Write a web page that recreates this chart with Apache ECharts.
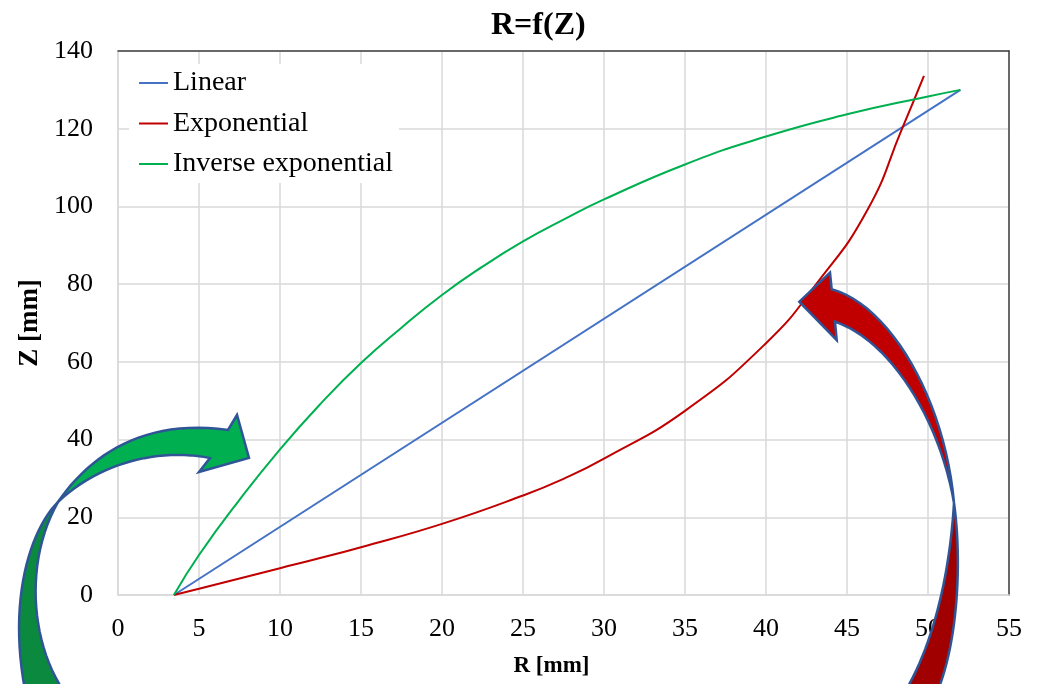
<!DOCTYPE html>
<html>
<head>
<meta charset="utf-8">
<script src="https://cdn.jsdelivr.net/npm/echarts@6/dist/echarts.min.js"></script>
<style>html,body{margin:0;padding:0;background:#fff}#c{width:1038px;height:684px}</style>
</head>
<body>
<div id="c"></div>
<script>
// ---- data ----
const linearR = [3.45, 52];
const linearZ = [0, 130];
const expR = [3.45, 5, 10, 12, 15, 20, 25, 27.5, 30, 35, 40, 43.1, 46.25, 48.4, 49.75];
const expZ = [0, 1.6, 6.9, 9.0, 12.3, 18.3, 25.6, 29.9, 35.1, 47.4, 64.8, 80, 99, 120, 133.6];
const invR = [3.45, 5, 7.5, 10, 12.5, 15, 17.5, 20, 22.5, 25, 27.5, 30, 35, 40, 45, 50, 52];
const invZ = [0, 10.3, 24.5, 37.5, 49.2, 59.7, 68.8, 77.2, 84.5, 91.0, 96.6, 101.8, 110.8, 118, 123.7, 128.3, 130];
const seriesNames = ['Linear', 'Exponential', 'Inverse exponential'];
const xTicks = {min: 0, max: 55, interval: 5};
const yTicks = {min: 0, max: 140, interval: 20};

const pair = (xs, ys) => xs.map((x, i) => [x, ys[i]]);
const FONT = '"Liberation Serif", "Times New Roman", serif';

// decorative arrow outlines: build polygon points from simple path commands
function shapePoints(cmds) {
  const pts = [];
  let cur = null;
  cmds.forEach(c => {
    if (c[0] === 'M' || c[0] === 'L') { cur = [c[1], c[2]]; pts.push(cur); }
    else if (c[0] === 'C') {
      const p0 = cur, p1 = [c[1], c[2]], p2 = [c[3], c[4]], p3 = [c[5], c[6]];
      for (let i = 1; i <= 24; i++) {
        const t = i / 24, u = 1 - t;
        pts.push([
          u*u*u*p0[0] + 3*u*u*t*p1[0] + 3*u*t*t*p2[0] + t*t*t*p3[0],
          u*u*u*p0[1] + 3*u*u*t*p1[1] + 3*u*t*t*p2[1] + t*t*t*p3[1]
        ]);
      }
      cur = p3;
    }
  });
  return pts;
}
const outline = '#2F5597';
const arrowParts = [
  {fill: '#0B8A3F', z: 100, cmds: [['M',58,502],['C',30,530,8,600,25,690],['L',63,690],['C',30,640,25,560,58,502]]},
  {fill: '#00B050', z: 101, cmds: [['M',58,502],['C',90,455,145,418,228,430],['L',237,415],['L',249,458],['L',199,472],['L',210,458],['C',160,448,100,462,58,502]]},
  {fill: '#A00000', z: 100, cmds: [['M',954,503],['C',962,560,958,640,938,690],['L',906,690],['C',935,640,950,570,954,503]]},
  {fill: '#C00000', z: 101, cmds: [['M',954,503],['C',945,400,890,305,831.7,289.3],['L',830,272.7],['L',799.3,301.7],['L',836.7,340],['L',835,321.7],['C',890,340,940,420,954,503]]}
];

const chart = echarts.init(document.getElementById('c'), null, {renderer: 'canvas'});
chart.setOption({
  backgroundColor: '#ffffff',
  animation: false,
  title: {
    text: 'R=f(Z)', left: 486, top: 5,
    textStyle: {fontFamily: FONT, fontWeight: 'bold', fontSize: 32, color: '#000'}
  },
  legend: {
    data: seriesNames, orient: 'vertical', left: 129, top: 64,
    padding: [5, 6, 5, 10], backgroundColor: '#ffffff',
    itemWidth: 29, itemHeight: 2, itemGap: 12.5, icon: 'rect',
    textStyle: {fontFamily: FONT, fontSize: 28, color: '#000', lineHeight: 28}
  },
  grid: {left: 118, right: 29, top: 51, bottom: 89},
  xAxis: [{
    type: 'value', min: xTicks.min, max: xTicks.max, interval: xTicks.interval,
    name: 'R [mm]', nameLocation: 'middle', nameGap: 60,
    nameTextStyle: {fontFamily: FONT, fontWeight: 'bold', fontSize: 23, color: '#000', padding: [0, 24, 0, 0]},
    axisLine: {show: true, onZero: false, lineStyle: {color: '#d9d9d9', width: 1.5}},
    axisTick: {show: false},
    axisLabel: {fontFamily: FONT, fontSize: 26, color: '#000', margin: 21},
    splitLine: {show: true, lineStyle: {color: '#d9d9d9', width: 1.5}}
  }, {
    type: 'value', position: 'top', min: xTicks.min, max: xTicks.max,
    axisLine: {show: true, onZero: false, lineStyle: {color: '#404040', width: 1.5}},
    axisTick: {show: false}, axisLabel: {show: false}, splitLine: {show: false}
  }],
  yAxis: [{
    type: 'value', min: yTicks.min, max: yTicks.max, interval: yTicks.interval,
    name: 'Z [mm]', nameLocation: 'middle', nameGap: 74, nameRotate: 90,
    nameTextStyle: {fontFamily: FONT, fontWeight: 'bold', fontSize: 27, color: '#000'},
    axisLine: {show: true, onZero: false, lineStyle: {color: '#d9d9d9', width: 1.5}},
    axisTick: {show: false},
    axisLabel: {fontFamily: FONT, fontSize: 26, color: '#000', margin: 25},
    splitLine: {show: true, lineStyle: {color: '#d9d9d9', width: 1.5}}
  }, {
    type: 'value', position: 'right', min: yTicks.min, max: yTicks.max,
    axisLine: {show: true, onZero: false, lineStyle: {color: '#404040', width: 1.5}},
    axisTick: {show: false}, axisLabel: {show: false}, splitLine: {show: false}
  }],
  series: [
    {name: seriesNames[0], type: 'line', data: pair(linearR, linearZ), showSymbol: false,
     lineStyle: {color: '#4472C4', width: 2}, itemStyle: {color: '#4472C4'}},
    {name: seriesNames[1], type: 'line', data: pair(expR, expZ), showSymbol: false, smooth: 0.5,
     lineStyle: {color: '#C00000', width: 2}, itemStyle: {color: '#C00000'}},
    {name: seriesNames[2], type: 'line', data: pair(invR, invZ), showSymbol: false, smooth: 0.5,
     lineStyle: {color: '#00B050', width: 2}, itemStyle: {color: '#00B050'}}
  ],
  graphic: arrowParts.map(p => ({
    type: 'polygon', z: p.z, silent: true,
    shape: {points: shapePoints(p.cmds)},
    style: {fill: p.fill, stroke: outline, lineWidth: 2.5, lineJoin: 'miter'}
  }))
});
</script>
</body>
</html>
